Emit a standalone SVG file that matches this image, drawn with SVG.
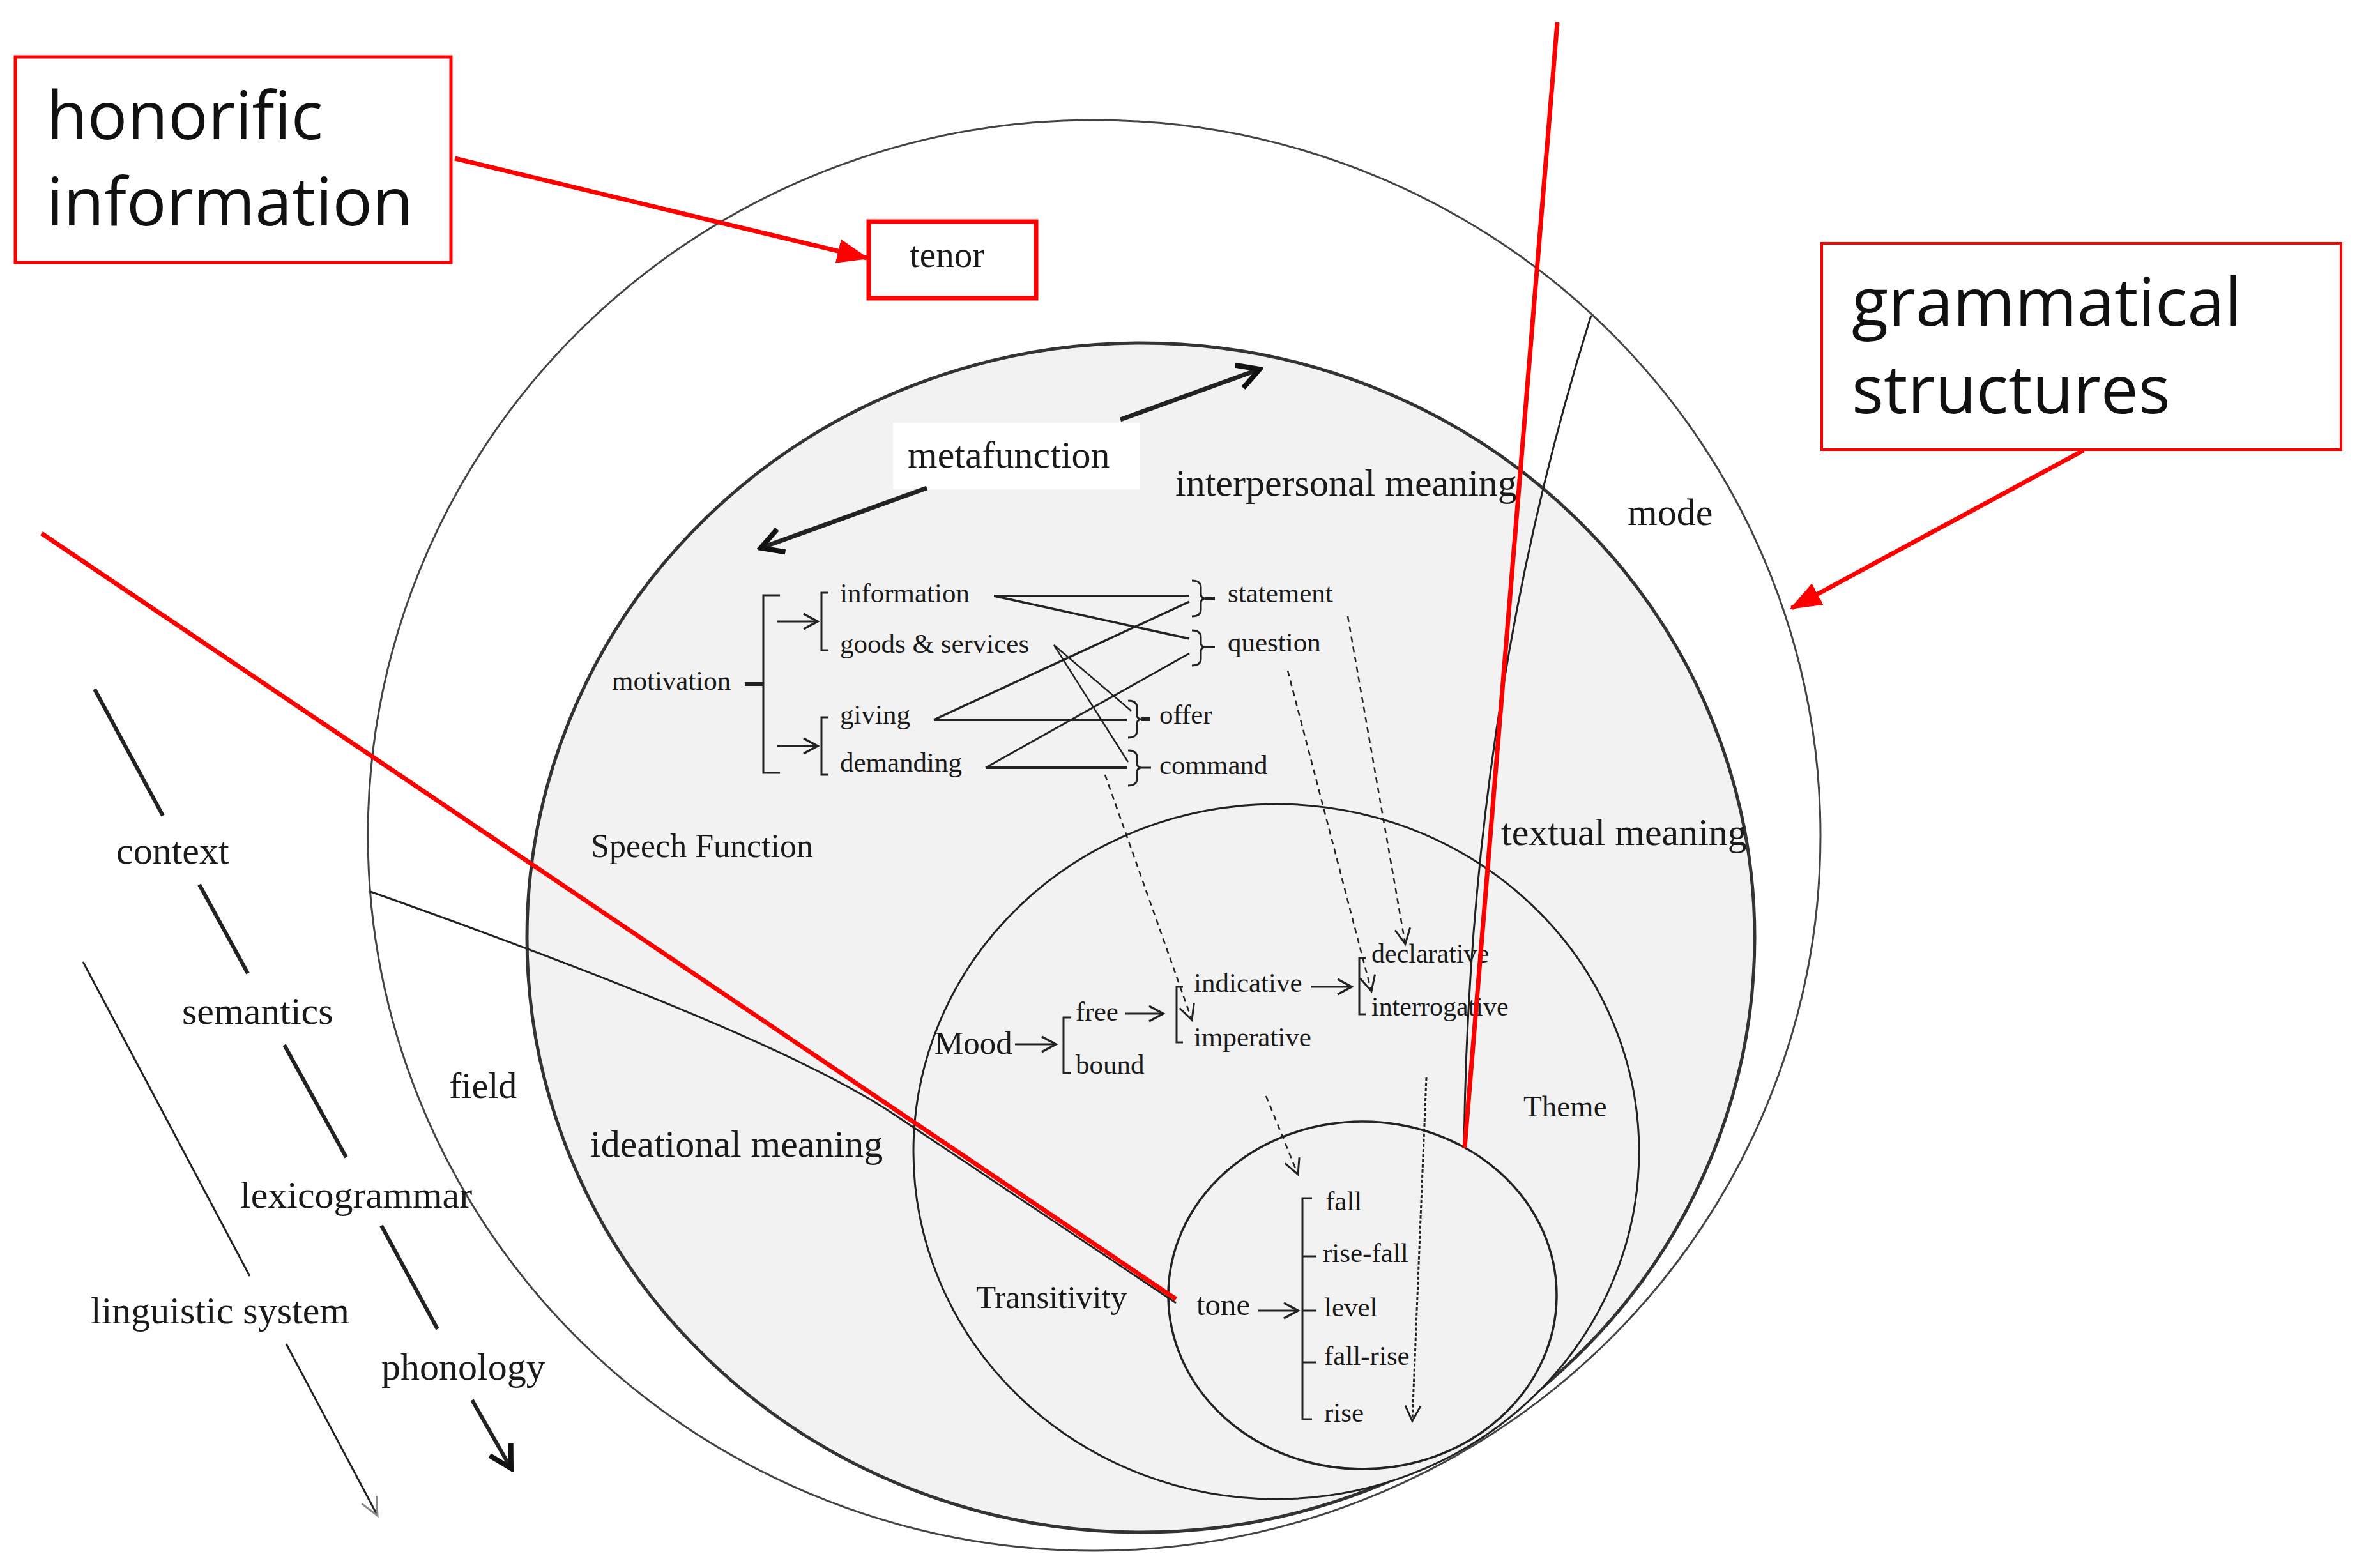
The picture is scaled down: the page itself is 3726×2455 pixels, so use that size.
<svg xmlns="http://www.w3.org/2000/svg" width="3726" height="2455" viewBox="0 0 3726 2455">
<style>
.serif{font-family:"Liberation Serif","Times New Roman",serif;fill:#1a1a1a}
.sans{font-family:"Open Sans","Liberation Sans",sans-serif;fill:#111}
.ln{stroke:#222;fill:none;stroke-linecap:butt}
.dash{stroke:#222;fill:none;stroke-width:2.5;stroke-dasharray:9 7}
.dot{stroke:#222;fill:none;stroke-width:3;stroke-dasharray:5 3}
.red{stroke:#ff0000;fill:none;stroke-width:7}
.redbox{stroke:#ff0000;fill:#fff}
</style>
<defs>
<marker id="mRed" markerUnits="userSpaceOnUse" viewBox="0 0 50 40" markerWidth="50" markerHeight="40" refX="46" refY="20" orient="auto"><path d="M0,1 L50,20 L0,39 z" fill="#ff0000"/></marker>
<marker id="mV" markerUnits="userSpaceOnUse" viewBox="-30 -16 34 32" markerWidth="34" markerHeight="32" refX="0" refY="0" orient="auto"><path d="M-22,-12 L0,0 L-22,12" fill="none" stroke="#222" stroke-width="3.5"/></marker>
<marker id="mVd" markerUnits="userSpaceOnUse" viewBox="-30 -16 34 32" markerWidth="34" markerHeight="32" refX="0" refY="0" orient="auto"><path d="M-24,-12 L0,0 L-24,12" fill="none" stroke="#222" stroke-width="3"/></marker>
<marker id="mBig" markerUnits="userSpaceOnUse" viewBox="-44 -26 50 52" markerWidth="50" markerHeight="52" refX="0" refY="0" orient="auto"><path d="M-34,-19 L0,0 L-34,19" fill="none" stroke="#111" stroke-width="8"/></marker>
<marker id="mGray" markerUnits="userSpaceOnUse" viewBox="-34 -18 38 36" markerWidth="38" markerHeight="36" refX="0" refY="0" orient="auto"><path d="M-28,-13 L0,0 L-28,13" fill="none" stroke="#888" stroke-width="3"/></marker>
</defs>
<rect x="0" y="0" width="3726" height="2455" fill="#fff"/>

<g id="context-circle"><ellipse cx="1713" cy="1308" rx="1137" ry="1120" fill="#fff" stroke="#444" stroke-width="3"/></g>
<g id="semantics-circle"><ellipse cx="1786" cy="1468" rx="961" ry="931" fill="#f2f2f2" stroke="#333" stroke-width="5"/></g>
<g id="metafunction-bg"><rect x="1398" y="662" width="386" height="104" fill="#fff"/></g>
<g id="lexicogrammar-circle"><ellipse cx="1998" cy="1803" rx="568" ry="544" fill="#f2f2f2" stroke="#222" stroke-width="3"/></g>
<g id="phonology-circle"><ellipse cx="2133" cy="2028" rx="304" ry="272" fill="#f2f2f2" stroke="#222" stroke-width="3.5"/></g>

<g id="region-boundaries">
<path class="ln" stroke-width="3" d="M580,1396 Q1218,1622 1400,1745 L1841,2040"/>
<path class="ln" stroke-width="3" d="M2491,494 Q2300,1100 2292,1797"/>
</g>

<g id="labels">
<g id="tenor-node"><rect class="redbox" x="1360" y="347" width="262" height="120" stroke-width="7"/><text class="serif" x="1424" y="418" font-size="57">tenor</text></g>
<g id="metafunction"><text class="serif" x="1421" y="732" font-size="60">metafunction</text></g>
<g id="interpersonal"><text class="serif" x="1840" y="776" font-size="60">interpersonal meaning</text></g>
<g id="mode"><text class="serif" x="2548" y="822" font-size="60">mode</text></g>
<g id="speech-function"><text class="serif" x="925" y="1342" font-size="52">Speech Function</text></g>
<g id="textual"><text class="serif" x="2350" y="1323" font-size="60">textual meaning</text></g>
<g id="field"><text class="serif" x="703" y="1719" font-size="58">field</text></g>
<g id="ideational"><text class="serif" x="924" y="1811" font-size="60">ideational meaning</text></g>
<g id="theme"><text class="serif" x="2385" y="1748" font-size="47">Theme</text></g>
<g id="transitivity"><text class="serif" x="1528" y="2048" font-size="51">Transitivity</text></g>
<g id="context"><text class="serif" x="182" y="1352" font-size="60">context</text></g>
<g id="semantics"><text class="serif" x="285" y="1603" font-size="60">semantics</text></g>
<g id="lexicogrammar"><text class="serif" x="376" y="1891" font-size="60">lexicogrammar</text></g>
<g id="linguistic-system"><text class="serif" x="142" y="2072" font-size="60">linguistic system</text></g>
<g id="phonology"><text class="serif" x="597" y="2160" font-size="60">phonology</text></g>
</g>

<g id="speech-function-network">
<text class="serif" x="958" y="1080" font-size="43">motivation</text>
<text class="serif" x="1315" y="943" font-size="43">information</text>
<text class="serif" x="1315" y="1022" font-size="43">goods &amp; services</text>
<text class="serif" x="1315" y="1133" font-size="43">giving</text>
<text class="serif" x="1315" y="1208" font-size="43">demanding</text>
<text class="serif" x="1922" y="943" font-size="43">statement</text>
<text class="serif" x="1922" y="1020" font-size="43">question</text>
<text class="serif" x="1815" y="1133" font-size="43">offer</text>
<text class="serif" x="1815" y="1212" font-size="43">command</text>
</g>

<g id="mood-network">
<text class="serif" x="1463" y="1650" font-size="51">Mood</text>
<text class="serif" x="1684" y="1598" font-size="43">free</text>
<text class="serif" x="1684" y="1681" font-size="43">bound</text>
<text class="serif" x="1869" y="1553" font-size="43">indicative</text>
<text class="serif" x="1869" y="1638" font-size="43">imperative</text>
<text class="serif" x="2147" y="1507" font-size="42">declarative</text>
<text class="serif" x="2147" y="1590" font-size="42">interrogative</text>
</g>

<g id="tone-network">
<text class="serif" x="1873" y="2059" font-size="49">tone</text>
<text class="serif" x="2075" y="1895" font-size="43">fall</text>
<text class="serif" x="2071" y="1976" font-size="43">rise-fall</text>
<text class="serif" x="2073" y="2061" font-size="43">level</text>
<text class="serif" x="2073" y="2137" font-size="43">fall-rise</text>
<text class="serif" x="2073" y="2226" font-size="43">rise</text>
</g>

<g id="connectors">
<path class="ln" stroke-width="3" d="M1221,932 H1195 V1210 H1221"/>
<path class="ln" stroke-width="6" d="M1166,1071 H1195"/>
<path class="ln" stroke-width="3" marker-end="url(#mV)" d="M1217,973 H1280"/>
<path class="ln" stroke-width="3" marker-end="url(#mV)" d="M1217,1168 H1280"/>
<path class="ln" stroke-width="3" d="M1297,928 H1286 V1018 H1297"/>
<path class="ln" stroke-width="3" d="M1297,1123 H1286 V1213 H1297"/>
<path class="ln" stroke-width="3" d="M1866,909 Q1880,909 1880,920 V930 Q1880,937 1888,937 Q1880,937 1880,944 V954 Q1880,965 1866,965"/>
<path class="ln" stroke-width="6" d="M1886,937 H1902"/>
<path class="ln" stroke-width="3" d="M1866,987 Q1880,987 1880,998 V1007 Q1880,1013 1888,1013 Q1880,1013 1880,1020 V1031 Q1880,1042 1866,1042"/>
<path class="ln" stroke-width="3" d="M1888,1013 H1902"/>
<path class="ln" stroke-width="3" d="M1766,1097 Q1780,1097 1780,1108 V1119 Q1780,1126 1788,1126 Q1780,1126 1780,1133 V1144 Q1780,1155 1766,1155"/>
<path class="ln" stroke-width="6" d="M1786,1126 H1800"/>
<path class="ln" stroke-width="3" d="M1766,1175 Q1780,1175 1780,1186 V1195 Q1780,1202 1788,1202 Q1780,1202 1780,1209 V1219 Q1780,1230 1766,1230"/>
<path class="ln" stroke-width="3" d="M1788,1202 H1802"/>
<path class="ln" stroke-width="4" d="M1556,933 H1862"/>
<path class="ln" stroke-width="3.5" d="M1556,933 L1862,1000"/>
<path class="ln" stroke-width="3.5" d="M1462,1127 L1862,942"/>
<path class="ln" stroke-width="4" d="M1462,1127 H1764"/>
<path class="ln" stroke-width="3" d="M1543,1202 L1862,1023"/>
<path class="ln" stroke-width="4" d="M1543,1202 H1764"/>
<path class="ln" stroke-width="2.5" d="M1650,1010 L1771,1113"/>
<path class="ln" stroke-width="2.5" d="M1650,1010 L1766,1193"/>
<path class="ln" stroke-width="3" marker-end="url(#mV)" d="M1589,1635 H1653"/>
<path class="ln" stroke-width="3" d="M1677,1593 H1665 V1680 H1677"/>
<path class="ln" stroke-width="3" marker-end="url(#mV)" d="M1761,1587 H1821"/>
<path class="ln" stroke-width="3" d="M1852,1545 H1842 V1632 H1852"/>
<path class="ln" stroke-width="3" marker-end="url(#mV)" d="M2052,1545 H2116"/>
<path class="ln" stroke-width="3" d="M2138,1500 H2128 V1588 H2138"/>
<path class="ln" stroke-width="3" marker-end="url(#mV)" d="M1970,2052 H2032"/>
<path class="ln" stroke-width="3" d="M2054,1876 H2039 V2222 H2054"/>
<path class="ln" stroke-width="3" d="M2039,1967 H2061 M2039,2052 H2061 M2039,2133 H2061"/>
<path class="dash" marker-end="url(#mVd)" d="M2110,965 L2200,1478"/>
<path class="dash" marker-end="url(#mVd)" d="M2016,1050 L2147,1552"/>
<path class="dash" marker-end="url(#mVd)" d="M1730,1213 L1866,1597"/>
<path class="dash" marker-end="url(#mVd)" d="M1982,1716 L2032,1839"/>
<path class="dot" marker-end="url(#mVd)" d="M2233,1687 L2211,2225"/>
<path class="ln" stroke="#111" stroke-width="7" marker-end="url(#mBig)" d="M1754,657 L1972,578"/>
<path class="ln" stroke="#111" stroke-width="7" marker-end="url(#mBig)" d="M1451,764 L1191,858"/>
<path class="ln" stroke="#111" stroke-width="6" d="M148,1079 L255,1277 M312,1385 L388,1524 M445,1636 L542,1812 M597,1919 L685,2081"/>
<path class="ln" stroke="#111" stroke-width="6" marker-end="url(#mBig)" d="M739,2192 L800,2299"/>
<path class="ln" stroke="#888" stroke-width="3" d="M130,1506 L391,1998"/>
<path class="ln" stroke="#888" stroke-width="3" marker-end="url(#mGray)" d="M448,2104 L591,2373"/>
<path class="red" d="M2438,35 L2293,1797"/>
<path class="red" d="M65,835 L1841,2034"/>
<path class="red" marker-end="url(#mRed)" d="M712,248 L1357,404"/>
<path class="red" marker-end="url(#mRed)" d="M3262,705 L2805,952"/>
</g>

<g id="honorific-node"><rect class="redbox" x="24" y="89" width="682" height="322" stroke-width="5"/><text class="sans" x="73" y="218" font-size="104">honorific</text><text class="sans" x="73" y="353" font-size="104">information</text></g>
<g id="grammatical-node"><rect class="redbox" x="2852" y="381" width="813" height="323" stroke-width="4"/><text class="sans" x="2899" y="510" font-size="105">grammatical</text><text class="sans" x="2899" y="647" font-size="105">structures</text></g>
</svg>
